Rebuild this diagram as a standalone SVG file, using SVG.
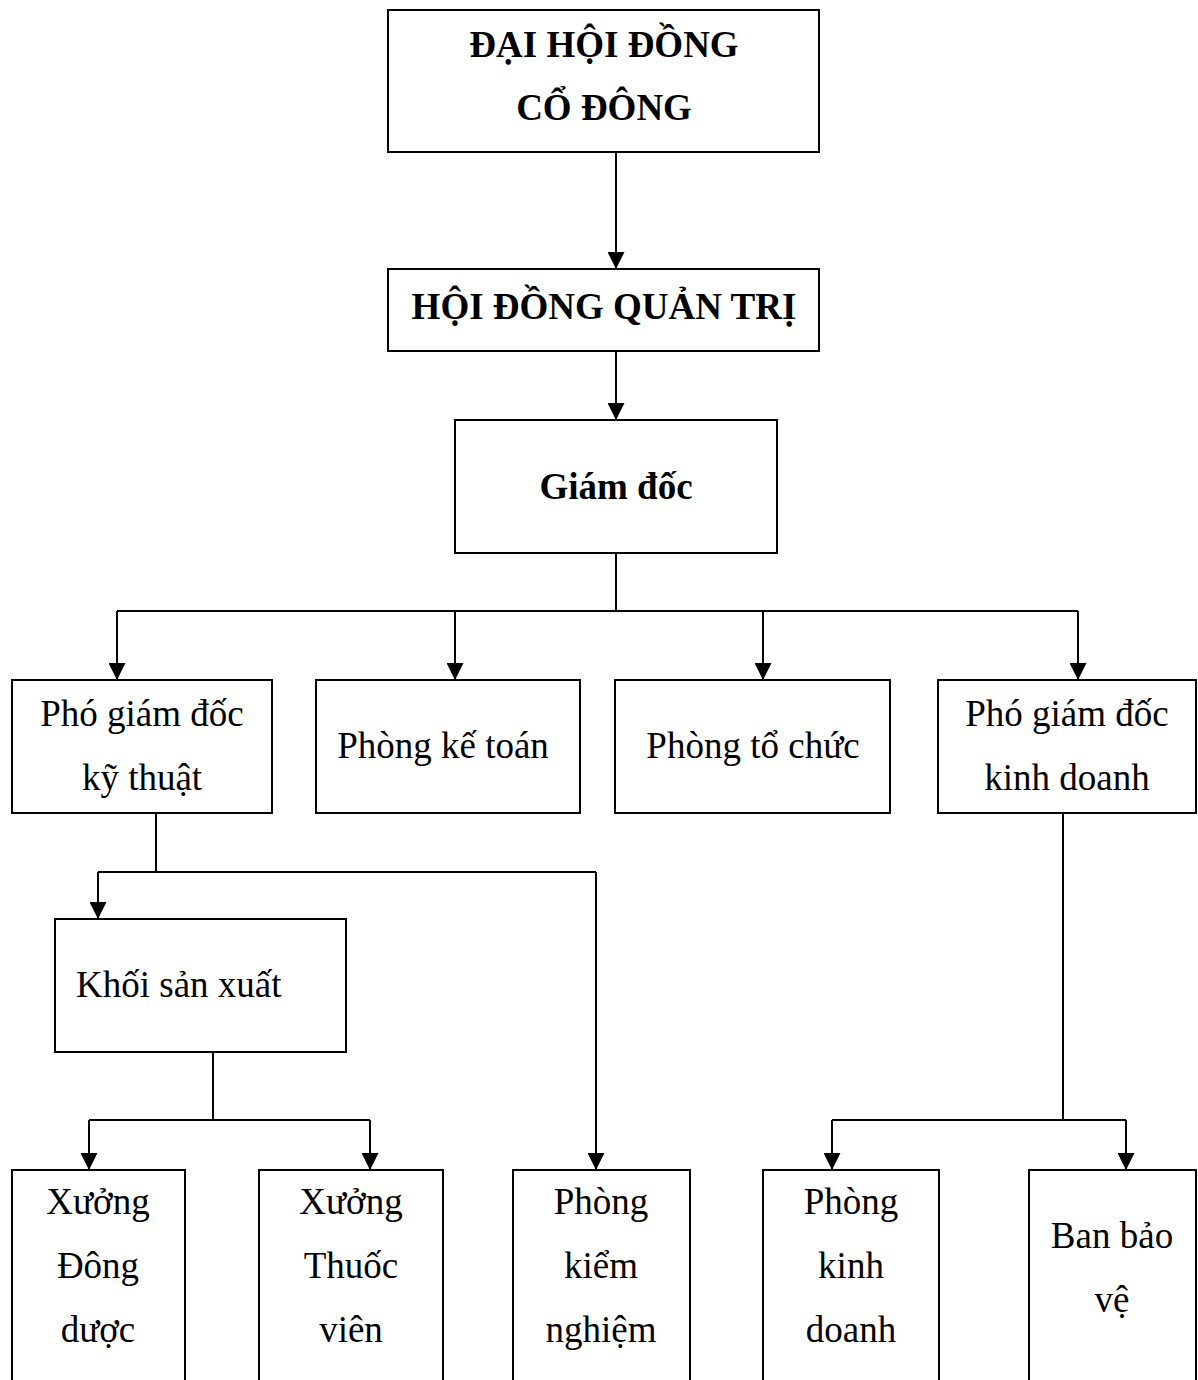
<svg xmlns="http://www.w3.org/2000/svg" width="1198" height="1380" viewBox="0 0 1198 1380">
  <style>
    .box { fill: #ffffff; stroke: #000000; stroke-width: 2; }
    .t { font-family: "Liberation Serif", "Times New Roman", serif; font-size: 37px; fill: #000000; text-anchor: middle; }
    .b { font-weight: bold; }
    .s { text-anchor: start; }
    .ln { fill: none; stroke: #000000; stroke-width: 2; }
  </style>
  <defs>
    <marker id="arrow" markerUnits="userSpaceOnUse" markerWidth="17" markerHeight="17" viewBox="0 0 17 17" refX="17" refY="8.5" orient="auto">
      <path d="M0,0 L17,8.5 L0,17 Z" fill="#000000"/>
    </marker>
  </defs>
  <rect width="1198" height="1380" fill="#ffffff"/>

  <g id="connectors">
    <!-- board chain -->
    <path class="ln" d="M616,152 V269" marker-end="url(#arrow)"/>
    <path class="ln" d="M616,351 V420" marker-end="url(#arrow)"/>
    <!-- director to departments -->
    <path class="ln" d="M616,553 V611"/>
    <path class="ln" d="M117,611 H1078"/>
    <path class="ln" d="M117,611 V680" marker-end="url(#arrow)"/>
    <path class="ln" d="M455,611 V680" marker-end="url(#arrow)"/>
    <path class="ln" d="M763,611 V680" marker-end="url(#arrow)"/>
    <path class="ln" d="M1078,611 V680" marker-end="url(#arrow)"/>
    <!-- technical deputy branch -->
    <path class="ln" d="M156,813 V872"/>
    <path class="ln" d="M98,872 H596"/>
    <path class="ln" d="M98,872 V919" marker-end="url(#arrow)"/>
    <path class="ln" d="M596,872 V1170" marker-end="url(#arrow)"/>
    <!-- production block -->
    <path class="ln" d="M213,1052 V1120"/>
    <path class="ln" d="M89,1120 H370"/>
    <path class="ln" d="M89,1120 V1170" marker-end="url(#arrow)"/>
    <path class="ln" d="M370,1120 V1170" marker-end="url(#arrow)"/>
    <!-- business deputy branch -->
    <path class="ln" d="M1063,813 V1120"/>
    <path class="ln" d="M832,1120 H1126"/>
    <path class="ln" d="M832,1120 V1170" marker-end="url(#arrow)"/>
    <path class="ln" d="M1126,1120 V1170" marker-end="url(#arrow)"/>
  </g>

  <g id="dai-hoi-dong-co-dong">
    <rect class="box" x="388" y="10" width="431" height="142"/>
    <text class="t b" x="604" y="57">ĐẠI HỘI ĐỒNG</text>
    <text class="t b" x="604" y="120">CỔ ĐÔNG</text>
  </g>

  <g id="hoi-dong-quan-tri">
    <rect class="box" x="388" y="269" width="431" height="82"/>
    <text class="t b" x="604" y="319">HỘI ĐỒNG QUẢN TRỊ</text>
  </g>

  <g id="giam-doc">
    <rect class="box" x="455" y="420" width="322" height="133"/>
    <text class="t b" x="616" y="499">Giám đốc</text>
  </g>

  <g id="pho-giam-doc-ky-thuat">
    <rect class="box" x="12" y="680" width="260" height="133"/>
    <text class="t" x="142" y="726">Phó giám đốc</text>
    <text class="t" x="142" y="790">kỹ thuật</text>
  </g>

  <g id="phong-ke-toan">
    <rect class="box" x="316" y="680" width="264" height="133"/>
    <text class="t" x="443" y="758">Phòng kế toán</text>
  </g>

  <g id="phong-to-chuc">
    <rect class="box" x="615" y="680" width="275" height="133"/>
    <text class="t" x="753" y="758">Phòng tổ chức</text>
  </g>

  <g id="pho-giam-doc-kinh-doanh">
    <rect class="box" x="938" y="680" width="258" height="133"/>
    <text class="t" x="1067" y="726">Phó giám đốc</text>
    <text class="t" x="1067" y="790">kinh doanh</text>
  </g>

  <g id="khoi-san-xuat">
    <rect class="box" x="55" y="919" width="291" height="133"/>
    <text class="t s" x="76" y="997">Khối sản xuất</text>
  </g>

  <g id="xuong-dong-duoc">
    <rect class="box" x="12" y="1170" width="173" height="240"/>
    <text class="t" x="98" y="1214">Xưởng</text>
    <text class="t" x="98" y="1278">Đông</text>
    <text class="t" x="98" y="1342">dược</text>
  </g>

  <g id="xuong-thuoc-vien">
    <rect class="box" x="259" y="1170" width="184" height="240"/>
    <text class="t" x="351" y="1214">Xưởng</text>
    <text class="t" x="351" y="1278">Thuốc</text>
    <text class="t" x="351" y="1342">viên</text>
  </g>

  <g id="phong-kiem-nghiem">
    <rect class="box" x="513" y="1170" width="177" height="240"/>
    <text class="t" x="601" y="1214">Phòng</text>
    <text class="t" x="601" y="1278">kiểm</text>
    <text class="t" x="601" y="1342">nghiệm</text>
  </g>

  <g id="phong-kinh-doanh">
    <rect class="box" x="763" y="1170" width="176" height="240"/>
    <text class="t" x="851" y="1214">Phòng</text>
    <text class="t" x="851" y="1278">kinh</text>
    <text class="t" x="851" y="1342">doanh</text>
  </g>

  <g id="ban-bao-ve">
    <rect class="box" x="1029" y="1170" width="167" height="240"/>
    <text class="t" x="1112" y="1248">Ban bảo</text>
    <text class="t" x="1112" y="1312">vệ</text>
  </g>
</svg>
